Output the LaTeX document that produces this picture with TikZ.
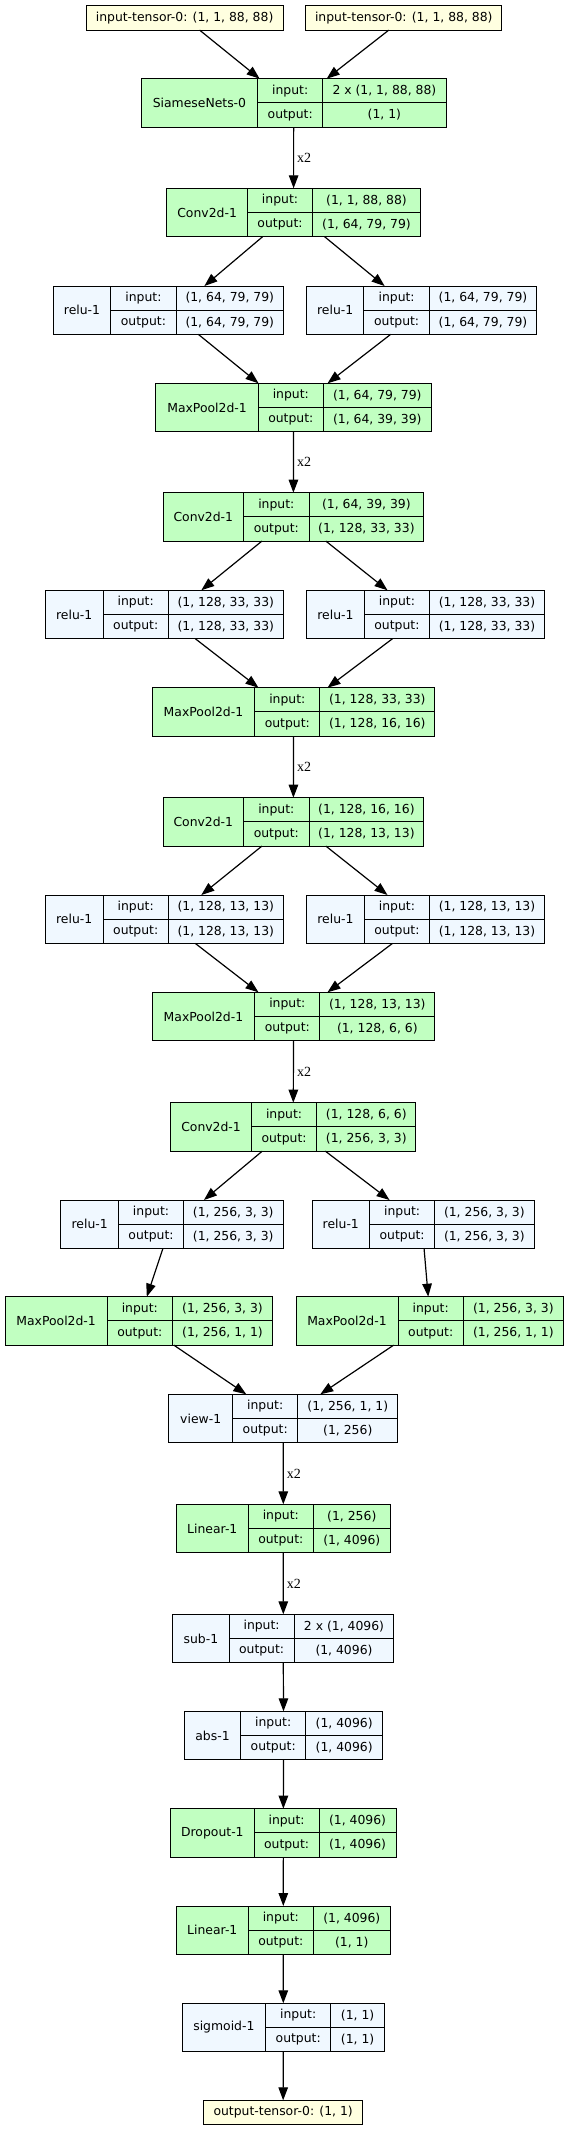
\documentclass[tikz,border=0pt]{standalone}
\usepackage{fontspec}
\usepackage{tikz}
\usepackage{xcolor}
\usetikzlibrary{positioning, arrows.meta, fit}

\newfontfamily\dejavu{DejaVu Sans}
\newfontfamily\edgefont{Liberation Serif}

\definecolor{layergreen}{HTML}{C1FFC1}
\definecolor{layerblue}{HTML}{F0F8FF}
\definecolor{tensoryellow}{HTML}{FFFFE0}

% one layer: name, fill style, top left corner, three cell widths, label, input, output
\newcommand{\layer}[9]{%
  \node[cell, #2, anchor=north west, minimum width=#4, minimum height=48.4] (#1-n) at (#3) {#7};
  \node[cell, #2, anchor=north west, minimum width=#5] (#1-ik) at (#1-n.north east) {input:};
  \node[cell, #2, anchor=north west, minimum width=#6] (#1-iv) at (#1-ik.north east) {#8};
  \node[cell, #2, anchor=north west, minimum width=#5] (#1-ok) at (#1-ik.south west) {output:};
  \node[cell, #2, anchor=north west, minimum width=#6] (#1-ov) at (#1-ok.north east) {#9};
  \node[fit=(#1-n)(#1-ov), inner sep=0pt, outer sep=0pt, draw=black, line width=1pt] (#1) {};
}

\begin{document}
\begin{tikzpicture}[x=1pt, y=-1pt,
    cell/.style={rectangle, draw=black, line width=1pt, inner sep=0pt, outer sep=0pt, minimum height=24.2, font=\dejavu\fontsize{12.4}{14.5}\selectfont},
    greenbox/.style={fill=layergreen},
    bluebox/.style={fill=layerblue},
    tensor/.style={cell, fill=tensoryellow, anchor=north west, minimum height=24.4},
    arrow/.style={-{Triangle[length=13pt, width=9.5pt]}, line width=1.2pt},
    mult/.style={midway, right, inner sep=3pt, font=\edgefont\fontsize{14}{16}\selectfont}
]

\path[use as bounding box, fill=white] (0,0) rectangle (568,2131);

% Eingaben
\node[tensor, minimum width=196.8] (inL) at (86.2,5.7) {input-tensor-0: (1, 1, 88, 88)};
\node[tensor, minimum width=196] (inR) at (305.8,5.7) {input-tensor-0: (1, 1, 88, 88)};

% Schichten
\layer{sia}{greenbox}{141.3,78.7}{116.3}{65.2}{123.2}{SiameseNets-0}{2 x (1, 1, 88, 88)}{(1, 1)}
\layer{convA}{greenbox}{166.7,188.3}{80.8}{65}{108}{Conv2d-1}{(1, 1, 88, 88)}{(1, 64, 79, 79)}
\layer{reluAl}{bluebox}{53.3,286}{57.4}{65.4}{107.4}{relu-1}{(1, 64, 79, 79)}{(1, 64, 79, 79)}
\layer{reluAr}{bluebox}{306.5,286}{57.4}{65.4}{107.4}{relu-1}{(1, 64, 79, 79)}{(1, 64, 79, 79)}
\layer{poolA}{greenbox}{155.8,383.3}{102.5}{65}{108}{MaxPool2d-1}{(1, 64, 79, 79)}{(1, 64, 39, 39)}

\layer{convB}{greenbox}{163,492.7}{80.6}{65.4}{114.8}{Conv2d-1}{(1, 64, 39, 39)}{(1, 128, 33, 33)}
\layer{reluBl}{bluebox}{45.3,590.3}{57.8}{65.2}{115}{relu-1}{(1, 128, 33, 33)}{(1, 128, 33, 33)}
\layer{reluBr}{bluebox}{306.5,590.3}{57.8}{65.2}{115}{relu-1}{(1, 128, 33, 33)}{(1, 128, 33, 33)}
\layer{poolB}{greenbox}{152.2,687.7}{102.5}{65.2}{114.9}{MaxPool2d-1}{(1, 128, 33, 33)}{(1, 128, 16, 16)}

\layer{convC}{greenbox}{163,797.7}{80.6}{65.4}{114.8}{Conv2d-1}{(1, 128, 16, 16)}{(1, 128, 13, 13)}
\layer{reluCl}{bluebox}{45.3,895}{57.8}{65.2}{115}{relu-1}{(1, 128, 13, 13)}{(1, 128, 13, 13)}
\layer{reluCr}{bluebox}{306.5,895}{57.8}{65.2}{115}{relu-1}{(1, 128, 13, 13)}{(1, 128, 13, 13)}
\layer{poolC}{greenbox}{152.2,992.3}{102.5}{65.2}{114.9}{MaxPool2d-1}{(1, 128, 13, 13)}{(1, 128, 6, 6)}

\layer{convD}{greenbox}{170.7,1102.7}{80.7}{65.3}{99.2}{Conv2d-1}{(1, 128, 6, 6)}{(1, 256, 3, 3)}
\layer{reluDl}{bluebox}{60.9,1200}{57.6}{65}{99.5}{relu-1}{(1, 256, 3, 3)}{(1, 256, 3, 3)}
\layer{reluDr}{bluebox}{312,1200}{57.6}{65}{99.5}{relu-1}{(1, 256, 3, 3)}{(1, 256, 3, 3)}
\layer{poolDl}{greenbox}{5.1,1296.7}{102}{65.4}{100}{MaxPool2d-1}{(1, 256, 3, 3)}{(1, 256, 1, 1)}
\layer{poolDr}{greenbox}{296,1296.7}{102}{65.4}{100}{MaxPool2d-1}{(1, 256, 3, 3)}{(1, 256, 1, 1)}

\layer{view}{bluebox}{168.8,1394.3}{63.8}{65.2}{100}{view-1}{(1, 256, 1, 1)}{(1, 256)}
\layer{linA}{greenbox}{176.4,1504.3}{71.8}{65.2}{76.8}{Linear-1}{(1, 256)}{(1, 4096)}
\layer{sub}{bluebox}{172.8,1614.3}{56.2}{65.2}{99.6}{sub-1}{2 x (1, 4096)}{(1, 4096)}
\layer{abs}{bluebox}{184.4,1711.3}{56.2}{65.2}{76.8}{abs-1}{(1, 4096)}{(1, 4096)}
\layer{drop}{greenbox}{170.7,1808.7}{83.3}{65.2}{76.8}{Dropout-1}{(1, 4096)}{(1, 4096)}
\layer{linB}{greenbox}{176.4,1906}{71.8}{65.2}{76.8}{Linear-1}{(1, 4096)}{(1, 1)}
\layer{sig}{bluebox}{182.2,2003.3}{83.4}{65.2}{53.6}{sigmoid-1}{(1, 1)}{(1, 1)}

% Ausgabe
\node[tensor, minimum width=159.1] (out) at (203.6,2100.3) {output-tensor-0: (1, 1)};

% Verbindungen oben
\draw[arrow] ([xshift=15]inL.south) -- ([xshift=-34]sia.north);
\draw[arrow] ([xshift=-15]inR.south) -- ([xshift=33]sia.north);
\draw[arrow] (sia.south) -- node[mult] {x2} (convA.north);

\draw[arrow] ([xshift=-31]convA.south) -- ([xshift=36]reluAl.north);
\draw[arrow] ([xshift=31]convA.south) -- ([xshift=-37]reluAr.north);
\draw[arrow] ([xshift=30]reluAl.south) -- ([xshift=-35]poolA.north);
\draw[arrow] ([xshift=-31]reluAr.south) -- ([xshift=34]poolA.north);
\draw[arrow] (poolA.south) -- node[mult] {x2} (convB.north);

\draw[arrow] ([xshift=-31.5]convB.south) -- ([xshift=37]reluBl.north);
\draw[arrow] ([xshift=32.5]convB.south) -- ([xshift=-38]reluBr.north);
\draw[arrow] ([xshift=31]reluBl.south) -- ([xshift=-35]poolB.north);
\draw[arrow] ([xshift=-33]reluBr.south) -- ([xshift=34]poolB.north);
\draw[arrow] (poolB.south) -- node[mult] {x2} (convC.north);

\draw[arrow] ([xshift=-31.5]convC.south) -- ([xshift=37]reluCl.north);
\draw[arrow] ([xshift=32.5]convC.south) -- ([xshift=-38]reluCr.north);
\draw[arrow] ([xshift=31]reluCl.south) -- ([xshift=-35]poolC.north);
\draw[arrow] ([xshift=-33]reluCr.south) -- ([xshift=34]poolC.north);
\draw[arrow] (poolC.south) -- node[mult] {x2} (convD.north);

% Verbindungen unten
\draw[arrow] ([xshift=-31]convD.south) -- ([xshift=32]reluDl.north);
\draw[arrow] ([xshift=32]convD.south) -- ([xshift=-33.5]reluDr.north);
\draw[arrow] ([xshift=-9]reluDl.south) -- ([xshift=8]poolDl.north);
\draw[arrow] ([xshift=1]reluDr.south) -- ([xshift=-1.5]poolDr.north);
\draw[arrow] ([xshift=35]poolDl.south) -- ([xshift=-37]view.north);
\draw[arrow] ([xshift=-36]poolDr.south) -- ([xshift=37]view.north);

\draw[arrow] (view.south) -- node[mult] {x2} (linA.north);
\draw[arrow] (linA.south) -- node[mult] {x2} (sub.north);
\foreach \a/\b in {sub/abs, abs/drop, drop/linB, linB/sig, sig/out}
  \draw[arrow] (\a.south) -- (\b.north);

\end{tikzpicture}
\end{document}
